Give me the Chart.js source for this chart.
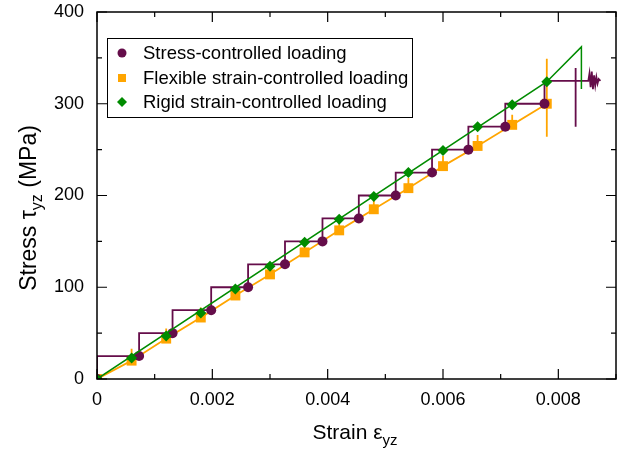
<!DOCTYPE html>
<html>
<head>
<meta charset="utf-8">
<script src="https://cdn.jsdelivr.net/npm/chart.js@4.4.1/dist/chart.umd.min.js"></script>
<style>
  html, body { margin: 0; padding: 0; background: #fff; overflow: hidden; }
  #wrap { width: 623px; height: 449px; }
</style>
</head>
<body>
<div id="wrap"><canvas id="chart" width="623" height="449"></canvas></div>
<script>
// markers
const circleStrain = [0, 0.00073, 0.00131, 0.00198, 0.00262, 0.00326, 0.00391, 0.00454, 0.00518, 0.00581, 0.00644, 0.00708, 0.00776];
const circleStress = [0, 25, 50, 75, 100, 125, 150, 175, 200, 225, 250, 275, 300];

const squareStrain = [0, 0.0006, 0.0012, 0.0018, 0.0024, 0.003, 0.0036, 0.0042, 0.0048, 0.0054, 0.006, 0.0066, 0.0072, 0.0078];
const squareStress = [0, 20, 44, 67, 91, 114, 138, 162, 185, 208, 232, 254, 277, 300];

const diamondStrain = [0, 0.0006, 0.0012, 0.0018, 0.0024, 0.003, 0.0036, 0.0042, 0.0048, 0.0054, 0.006, 0.0066, 0.0072, 0.0078];
const diamondStress = [0, 23, 47, 72, 98, 123, 149, 174, 199, 225, 249, 275, 299, 324];

// stress-controlled path (stairs + noisy end)
const purpleX = [0, 0, 0.00073, 0.00073, 0.00131, 0.00131, 0.00198, 0.00198, 0.00262, 0.00262, 0.00326, 0.00326,
  0.00391, 0.00391, 0.00454, 0.00454, 0.00518, 0.00518, 0.00581, 0.00581, 0.00644, 0.00644, 0.00708, 0.00708,
  0.00776, 0.00776, 0.0083, 0.0083, 0.0083, 0.0083, 0.00852, 0.00854, 0.00856, 0.00858, 0.0086, 0.00862,
  0.00864, 0.00866, 0.00868, 0.0087, 0.00873];
const purpleY = [0, 25, 25, 50, 50, 75, 75, 100, 100, 125, 125, 150,
  150, 175, 175, 200, 200, 225, 225, 250, 250, 275, 275, 300,
  300, 325, 325, 339, 275, 325, 325, 333, 318, 335, 316, 331, 320, 329, 322, 327, 325];

// flexible strain-controlled path
const orangeX = [0, 0.0006, 0.0006, 0.0006, 0.0012, 0.0012, 0.0012, 0.0018, 0.0018, 0.0018, 0.0024, 0.0024, 0.0024,
  0.003, 0.003, 0.003, 0.0036, 0.0036, 0.0036, 0.0042, 0.0042, 0.0042, 0.0048, 0.0048, 0.0048,
  0.0054, 0.0054, 0.0054, 0.006, 0.006, 0.006, 0.0066, 0.0066, 0.0066, 0.0072, 0.0072, 0.0072,
  0.0078, 0.0078, 0.0078];
const orangeY = [0, 20, 33, 20, 44, 55, 44, 67, 78, 67, 91, 102, 91,
  114, 125, 114, 138, 149, 138, 162, 173, 162, 185, 196, 185,
  208, 219, 208, 232, 243, 232, 254, 266, 254, 277, 288, 277,
  300, 349, 264];

// rigid strain-controlled path
const greenX = [0, 0.0078, 0.0084, 0.0084];
const greenY = [0, 324, 362, 316];

const legendLabels = ['Stress-controlled loading', 'Flexible strain-controlled loading', 'Rigid strain-controlled loading'];

const PURPLE = '#650d4a';
const ORANGE = '#ffa500';
const GREEN = '#008b00';
const FONT = "'Liberation Sans', Arial, sans-serif";

const pts = (xs, ys) => xs.map((x, i) => ({ x: x, y: ys[i] }));

// cuadro, ticks hacia dentro, titulos con subindices y leyenda
const framePlugin = {
  id: 'frame',
  afterDraw(chart) {
    const ctx = chart.ctx;
    const a = chart.chartArea;
    const xs = chart.scales.x, ys = chart.scales.y;
    ctx.save();
    ctx.strokeStyle = '#000';
    ctx.lineWidth = 1.5;
    ctx.strokeRect(a.left, a.top, a.right - a.left, a.bottom - a.top);

    ctx.beginPath();
    xs.ticks.forEach(t => {
      const px = xs.getPixelForValue(t.value);
      const major = Math.round(t.value * 1000) % 2 === 0;
      const len = major ? 10 : 5;
      ctx.moveTo(px, a.bottom); ctx.lineTo(px, a.bottom - len);
      ctx.moveTo(px, a.top); ctx.lineTo(px, a.top + len);
    });
    ys.ticks.forEach(t => {
      const py = ys.getPixelForValue(t.value);
      const major = Math.round(t.value) % 100 === 0;
      const len = major ? 10 : 5;
      ctx.moveTo(a.left, py); ctx.lineTo(a.left + len, py);
      ctx.moveTo(a.right, py); ctx.lineTo(a.right - len, py);
    });
    ctx.lineWidth = 1.2;
    ctx.stroke();

    // titulos
    function drawParts(parts, cx, cy, size, subSize, drop) {
      let total = 0;
      parts.forEach(p => {
        ctx.font = (p.sub ? subSize : size) + 'px ' + FONT;
        p.w = ctx.measureText(p.t).width;
        total += p.w;
      });
      let x = cx - total / 2;
      parts.forEach(p => {
        ctx.font = (p.sub ? subSize : size) + 'px ' + FONT;
        ctx.fillText(p.t, x, cy + (p.sub ? drop : 0));
        x += p.w;
      });
    }
    ctx.fillStyle = '#000';
    ctx.textAlign = 'left';
    ctx.textBaseline = 'alphabetic';
    drawParts([{ t: 'Strain ε' }, { t: 'yz', sub: true }], 355, 439, 21, 15, 6);

    ctx.save();
    ctx.translate(36, 208);
    ctx.rotate(-Math.PI / 2);
    drawParts([{ t: 'Stress τ' }, { t: 'yz', sub: true }, { t: ' (MPa)' }], 0, 0, 23, 16, 6);
    ctx.restore();

    // leyenda
    ctx.fillStyle = '#fff';
    ctx.fillRect(107.5, 38.5, 305, 79);
    ctx.strokeStyle = '#000';
    ctx.lineWidth = 1;
    ctx.strokeRect(107.5, 38.5, 305, 79);
    const rows = [53, 78, 102];
    const mx = 122;
    ctx.fillStyle = PURPLE;
    ctx.beginPath(); ctx.arc(mx, rows[0], 4.5, 0, Math.PI * 2); ctx.fill();
    ctx.fillStyle = ORANGE;
    ctx.fillRect(mx - 4, rows[1] - 4, 8, 8);
    ctx.fillStyle = GREEN;
    ctx.beginPath();
    ctx.moveTo(mx - 5, rows[2]); ctx.lineTo(mx, rows[2] - 5); ctx.lineTo(mx + 5, rows[2]); ctx.lineTo(mx, rows[2] + 5);
    ctx.closePath(); ctx.fill();
    ctx.fillStyle = '#000';
    ctx.font = '18.5px ' + FONT;
    ctx.textBaseline = 'middle';
    legendLabels.forEach((l, i) => ctx.fillText(l, 143, rows[i] + 1));
    ctx.restore();
  }
};

new Chart(document.getElementById('chart'), {
  type: 'scatter',
  data: {
    datasets: [
      { data: pts(diamondStrain, diamondStress), pointStyle: 'rectRot', pointRadius: 5.5, pointBackgroundColor: GREEN, pointBorderWidth: 0, showLine: false, order: 0 },
      { data: pts(greenX, greenY), showLine: true, borderColor: GREEN, borderWidth: 1.5, pointRadius: 0, order: 1 },
      { data: pts(circleStrain, circleStress), pointStyle: 'circle', pointRadius: 5, pointBackgroundColor: PURPLE, pointBorderWidth: 0, showLine: false, order: 2 },
      { data: pts(purpleX, purpleY), showLine: true, borderColor: PURPLE, borderWidth: 1.8, pointRadius: 0, order: 3 },
      { data: pts(squareStrain, squareStress), pointStyle: 'rect', pointRadius: 7, pointBackgroundColor: ORANGE, pointBorderWidth: 0, showLine: false, order: 4 },
      { data: pts(orangeX, orangeY), showLine: true, borderColor: ORANGE, borderWidth: 1.8, pointRadius: 0, order: 5 }
    ]
  },
  options: {
    responsive: false,
    devicePixelRatio: 1,
    animation: false,
    events: [],
    layout: { padding: { top: 12, right: 1.5, left: 0, bottom: 0 } },
    plugins: { legend: { display: false }, tooltip: { enabled: false } },
    scales: {
      x: {
        type: 'linear', min: 0, max: 0.009,
        grid: { display: false, drawTicks: false },
        border: { display: false },
        afterFit(scale) { scale.height = 70; scale.paddingLeft = 0; scale.paddingRight = 0; },
        ticks: {
          stepSize: 0.001, autoSkip: false, maxRotation: 0, padding: 10,
          color: '#000', font: { family: FONT, size: 18 },
          callback: v => {
            const k = Math.round(v * 1000);
            if (k % 2 !== 0) return '';
            return k === 0 ? '0' : (k / 1000).toFixed(3);
          }
        }
      },
      y: {
        type: 'linear', min: 0, max: 400,
        grid: { display: false, drawTicks: false },
        border: { display: false },
        afterFit(scale) { scale.width = 97; scale.paddingTop = 0; scale.paddingBottom = 0; },
        ticks: {
          stepSize: 50, autoSkip: false, padding: 13,
          color: '#000', font: { family: FONT, size: 18 },
          callback: v => (Math.round(v) % 100 === 0 ? String(Math.round(v)) : '')
        }
      }
    }
  },
  plugins: [framePlugin]
});
</script>
</body>
</html>
